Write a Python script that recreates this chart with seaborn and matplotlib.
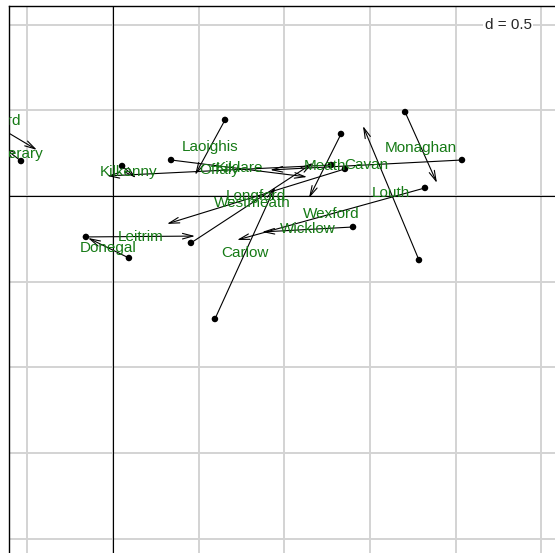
import numpy as np
import pandas as pd
import seaborn as sns
import matplotlib
matplotlib.use("Agg")
import matplotlib.pyplot as plt

# counties: start point (dot) and end point (arrow head)
counties = ["Waterford", "Tipperary", "Kilkenny", "Laoighis", "Kildare", "Offaly",
            "Meath", "Cavan", "Monaghan", "Louth", "Wexford", "Wicklow",
            "Longford", "Westmeath", "Carlow", "Leitrim", "Donegal"]
x_start = [-1.010, -0.537, 0.053, 0.654, 0.339, 1.273, 1.331, 2.037, 1.705,
           1.786, 1.821, 1.401, 1.354, 0.455, 0.595, -0.158, 0.093]
y_start = [0.607, 0.204, 0.175, 0.444, 0.210, 0.181, 0.362, 0.210, 0.490,
           -0.374, 0.047, -0.181, 0.158, -0.274, -0.718, -0.239, -0.362]
x_end = [-0.444, -0.642, 0.134, 0.479, 1.133, -0.035, 1.144, 0.917, 1.891,
         1.459, 0.724, 0.870, 0.315, 1.168, 0.946, 0.479, -0.146]
y_end = [0.269, 0.286, 0.105, 0.123, 0.111, 0.117, -0.012, 0.152, 0.076,
         0.409, -0.257, -0.210, -0.163, 0.193, 0.053, -0.234, -0.245]
grid_step = 0.5

df = pd.DataFrame({"county": counties, "x0": x_start, "y0": y_start,
                   "x1": x_end, "y1": y_end})

sns.set_style("white")
plt.rcParams['font.family'] = ['Liberation Sans', 'DejaVu Sans']

fig = plt.figure(figsize=(5.55, 5.53), dpi=100)
ax = fig.add_axes([9 / 555, 0, 1 - 9 / 555, 547 / 553])
ax.set_xlim(-0.607, 2.58)
ax.set_ylim(-2.084, 1.109)

# grid
for g in np.arange(-2, 3.01, grid_step):
    ax.axvline(g, color='#d3d3d3', lw=1.4, zorder=0)
    ax.axhline(g, color='#d3d3d3', lw=1.4, zorder=0)
ax.axvline(0, color='black', lw=0.8, zorder=1)
ax.axhline(0, color='black', lw=0.8, zorder=1)

# arrows from first to second coordinates
for _, r in df.iterrows():
    ann = ax.annotate("", xy=(r.x1, r.y1), xytext=(r.x0, r.y0),
                      arrowprops=dict(arrowstyle='->,head_length=0.75,head_width=0.2',
                                      color='black', lw=0.8, shrinkA=0, shrinkB=0),
                      zorder=2, annotation_clip=False)
    ann.arrow_patch.set_clip_on(True)
    ann.arrow_patch.set_clip_path(ax.patch)

sns.scatterplot(data=df, x="x0", y="y0", color='black', s=22,
                edgecolor='none', ax=ax, zorder=3, legend=False)

# labels at midpoints
for _, r in df.iterrows():
    ax.text((r.x0 + r.x1) / 2, (r.y0 + r.y1) / 2, r.county, color='#157a15',
            fontsize=11, ha='center', va='center', zorder=4, clip_on=True)

ax.text(0.914, 0.965, "d = 0.5", transform=ax.transAxes, fontsize=11,
        ha='center', va='center', zorder=5,
        bbox=dict(facecolor='white', edgecolor='none', pad=1.0))

ax.set_xticks([])
ax.set_yticks([])
ax.set_xlabel("")
ax.set_ylabel("")
for side in ['right', 'bottom']:
    ax.spines[side].set_visible(False)
for side in ['left', 'top']:
    ax.spines[side].set_color('black')
    ax.spines[side].set_linewidth(1.0)

fig.savefig("out.png", dpi=100)
